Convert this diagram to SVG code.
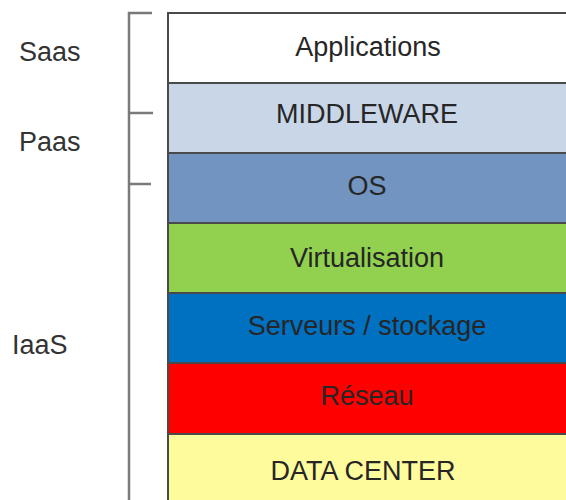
<svg xmlns="http://www.w3.org/2000/svg" width="566" height="500" viewBox="0 0 566 500">
  <style>
    .layer { stroke: #4a4a4a; stroke-width: 2; }
    .lbl { font-family: "Liberation Sans", Arial, sans-serif; font-size: 27px; fill: #262626; text-anchor: middle; }
    .side { font-family: "Liberation Sans", Arial, sans-serif; font-size: 27px; fill: #333333; }
    .brk { stroke: #7a7a7a; stroke-width: 2.5; fill: none; }
  </style>
  <rect width="566" height="500" fill="#ffffff"/>
  <g id="side-labels">
    <text class="side" x="19" y="61">Saas</text>
    <text class="side" x="19" y="151">Paas</text>
    <text class="side" x="12" y="354">IaaS</text>
  </g>
  <g id="connectors">
    <path class="brk" d="M152,13 H129 V500"/>
    <path class="brk" d="M129,113 H153"/>
    <path class="brk" d="M129,184 H151"/>
  </g>
  <g id="applications">
    <rect class="layer" x="168" y="13" width="410" height="70" fill="#ffffff"/>
    <text class="lbl" x="368" y="56">Applications</text>
  </g>
  <g id="middleware">
    <rect class="layer" x="168" y="83" width="410" height="70" fill="#c8d6e7"/>
    <text class="lbl" x="367" y="123">MIDDLEWARE</text>
  </g>
  <g id="os">
    <rect class="layer" x="168" y="153" width="410" height="70" fill="#7294c0"/>
    <text class="lbl" x="367" y="195">OS</text>
  </g>
  <g id="virtualisation">
    <rect class="layer" x="168" y="223" width="410" height="70" fill="#92d050"/>
    <text class="lbl" x="367" y="267">Virtualisation</text>
  </g>
  <g id="serveurs">
    <rect class="layer" x="168" y="293" width="410" height="70" fill="#0070c0"/>
    <text class="lbl" x="367" y="335">Serveurs / stockage</text>
  </g>
  <g id="reseau">
    <rect class="layer" x="168" y="363" width="410" height="71" fill="#ff0000"/>
    <text class="lbl" x="367" y="405">Réseau</text>
  </g>
  <g id="datacenter">
    <rect class="layer" x="168" y="434" width="410" height="80" fill="#fdfb9c"/>
    <text class="lbl" x="363" y="480">DATA CENTER</text>
  </g>
</svg>
